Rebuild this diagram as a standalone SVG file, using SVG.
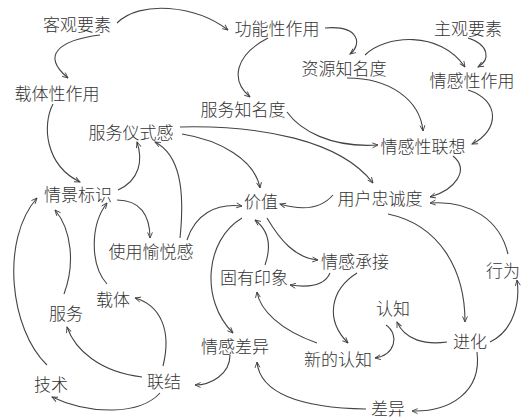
<svg xmlns="http://www.w3.org/2000/svg" width="525" height="420" viewBox="0 0 525 420">
<defs>
<marker id="ah" viewBox="0 0 10 10" refX="9" refY="5" markerWidth="7" markerHeight="7" orient="auto" markerUnits="userSpaceOnUse">
<path d="M1,1.5 L9,5 L1,8.5" fill="none" stroke="#444" stroke-width="1.3"/>
</marker>
<style>
text{font-family:"Noto Sans CJK SC","Noto Sans CJK JP",sans-serif;font-size:17px;fill:#333;text-anchor:middle;dominant-baseline:central;font-weight:300}
.c path{fill:none;stroke:#444;stroke-width:1.1;marker-end:url(#ah)}
</style>
</defs>
<rect width="525" height="420" fill="#fff"/>
<g class="c" id="connectors">
<path d="M117,23 C140,0 195,5 228,30"/>
<path d="M100,35 C60,40 40,55 68,78"/>
<path d="M325,28 C360,25 362,45 350,54"/>
<path d="M268,38 C235,55 230,80 250,97"/>
<path d="M365,55 C385,35 440,30 465,67"/>
<path d="M468,38 C490,45 490,60 478,67"/>
<path d="M347,78 C390,78 420,100 423,131"/>
<path d="M468,90 C500,100 500,130 472,144"/>
<path d="M287,112 C300,130 330,148 378,145"/>
<path d="M180,127 C260,125 340,140 373,183"/>
<path d="M182,134 C220,140 255,160 260,188"/>
<path d="M53,104 C42,125 45,165 80,182"/>
<path d="M118,190 C140,180 143,160 137,142"/>
<path d="M117,200 C140,200 150,215 150,238"/>
<path d="M180,238 C185,190 180,155 155,142"/>
<path d="M187,240 C195,215 215,203 242,206"/>
<path d="M47,365 C10,330 0,240 37,198"/>
<path d="M64,294 C75,265 72,230 55,210"/>
<path d="M107,284 C90,265 90,225 107,203"/>
<path d="M163,366 C172,330 160,305 135,298"/>
<path d="M142,377 C100,372 75,350 67,327"/>
<path d="M160,393 C140,415 90,415 52,397"/>
<path d="M230,355 C230,375 210,385 195,385"/>
<path d="M242,218 C205,240 200,300 233,333"/>
<path d="M265,265 C272,245 268,230 255,220"/>
<path d="M267,218 C280,240 295,258 318,260"/>
<path d="M330,273 C325,285 310,288 290,285"/>
<path d="M333,195 C320,210 300,210 280,204"/>
<path d="M317,343 C280,330 260,310 257,292"/>
<path d="M357,273 C330,290 325,320 348,343"/>
<path d="M386,325 C400,335 395,355 375,358"/>
<path d="M388,214 C440,225 465,270 465,322"/>
<path d="M447,342 C425,345 405,340 397,322"/>
<path d="M490,342 C515,330 520,300 517,280"/>
<path d="M508,254 C500,220 470,200 430,203"/>
<path d="M453,156 C470,170 455,190 430,197"/>
<path d="M477,352 C482,392 450,412 412,411"/>
<path d="M366,409 C300,408 260,393 257,362"/>
</g>
<g id="n1"><text x="77" y="23">客观要素</text></g>
<g id="n2"><text x="277" y="27">功能性作用</text></g>
<g id="n3"><text x="468" y="27">主观要素</text></g>
<g id="n4"><text x="344" y="67">资源知名度</text></g>
<g id="n5"><text x="472" y="79">情感性作用</text></g>
<g id="n6"><text x="57" y="92">载体性作用</text></g>
<g id="n7"><text x="243" y="108">服务知名度</text></g>
<g id="n8"><text x="131" y="131">服务仪式感</text></g>
<g id="n9"><text x="423" y="145">情感性联想</text></g>
<g id="n10"><text x="78" y="193">情景标识</text></g>
<g id="n11"><text x="380" y="197">用户忠诚度</text></g>
<g id="n12"><text x="261" y="200">价值</text></g>
<g id="n13"><text x="151" y="250">使用愉悦感</text></g>
<g id="n14"><text x="355" y="260">情感承接</text></g>
<g id="n15"><text x="503" y="269">行为</text></g>
<g id="n16"><text x="254" y="276">固有印象</text></g>
<g id="n17"><text x="113" y="298">载体</text></g>
<g id="n18"><text x="66" y="312">服务</text></g>
<g id="n19"><text x="393" y="307">认知</text></g>
<g id="n20"><text x="470" y="340">进化</text></g>
<g id="n21"><text x="235" y="345">情感差异</text></g>
<g id="n22"><text x="338" y="358">新的认知</text></g>
<g id="n23"><text x="164" y="380">联结</text></g>
<g id="n24"><text x="51" y="383">技术</text></g>
<g id="n25"><text x="388" y="407">差异</text></g>
</svg>
